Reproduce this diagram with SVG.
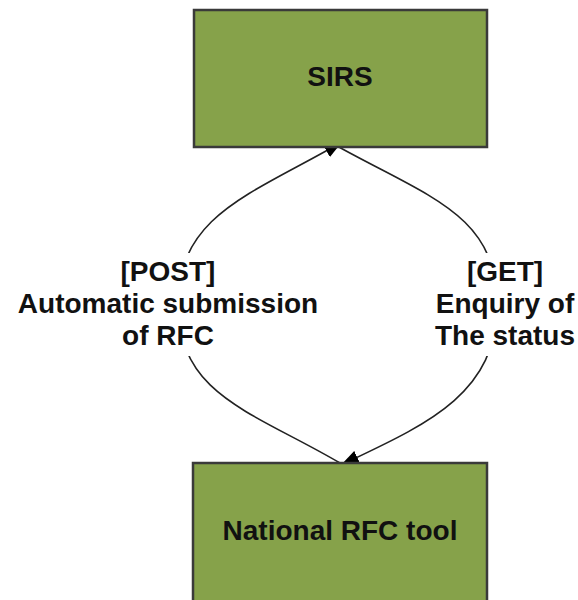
<svg xmlns="http://www.w3.org/2000/svg" width="578" height="600" viewBox="0 0 578 600">
  <style>
    .box { fill: #86a24a; stroke: #3a3a3a; stroke-width: 2.5; }
    .lbl { font-family: "Liberation Sans", Arial, sans-serif; font-weight: bold; font-size: 28px; fill: #111; text-anchor: middle; }
    .conn { fill: none; stroke: #222; stroke-width: 1.6; }
    .bg { fill: #ffffff; stroke: none; }
  </style>
  <defs>
    <marker id="arrow" markerUnits="userSpaceOnUse" markerWidth="18" markerHeight="14" refX="18" refY="7" orient="auto">
      <path d="M0,0 L18,7 L0,14 z" fill="#000"/>
    </marker>
  </defs>
  <g id="connectors">
    <path id="post" class="conn" d="M340,463 C 253,412 178,395 178,305 C 178,215 250,195 342,142" marker-end="url(#arrow)"/>
    <path id="get" class="conn" d="M337,146 C 431,198 497,215 497,305 C 497,395 425,425 341,465" marker-end="url(#arrow)"/>
    <g id="label-post">
      <rect class="bg" x="10" y="253" width="320" height="103"/>
      <text class="lbl" x="168" y="281">[POST]</text>
      <text class="lbl" x="168" y="313">Automatic submission</text>
      <text class="lbl" x="168" y="345">of RFC</text>
    </g>
    <g id="label-get">
      <rect class="bg" x="428" y="253" width="150" height="103"/>
      <text class="lbl" x="505" y="281">[GET]</text>
      <text class="lbl" x="505" y="313">Enquiry of</text>
      <text class="lbl" x="505" y="345">The status</text>
    </g>
  </g>
  <g id="sirs">
    <rect class="box" x="194" y="10" width="293" height="137"/>
    <text class="lbl" x="340" y="86">SIRS</text>
  </g>
  <g id="national-rfc-tool">
    <rect class="box" x="193" y="463" width="294" height="150"/>
    <text class="lbl" x="340" y="540">National RFC tool</text>
  </g>
</svg>
